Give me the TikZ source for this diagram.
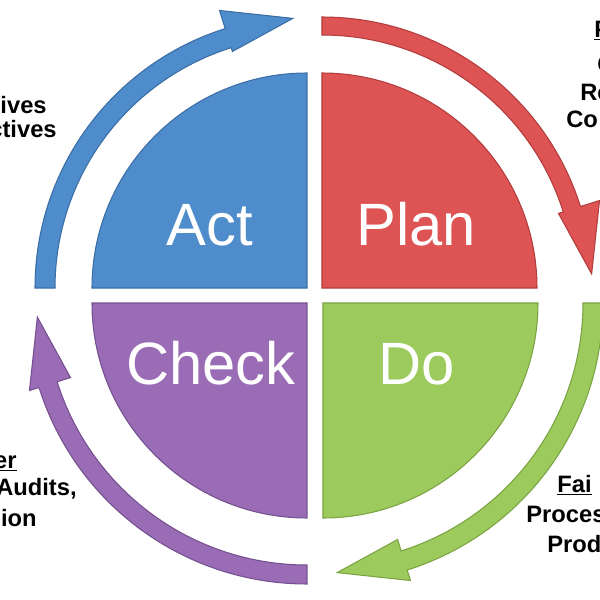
\documentclass[tikz,border=0pt]{standalone}
\usepackage{fontspec}
\setmainfont{Liberation Sans}

\definecolor{actblue}{HTML}{4E8CCB}
\definecolor{actline}{HTML}{3B6EA5}
\definecolor{planred}{HTML}{DE5454}
\definecolor{planline}{HTML}{B03C3C}
\definecolor{dogreen}{HTML}{9DCA5C}
\definecolor{doline}{HTML}{7BA344}
\definecolor{checkpurple}{HTML}{9B6CB6}
\definecolor{checkline}{HTML}{74508F}

\tikzset{
  quad/.style={line width=0.6pt},
  quadlabel/.style={text=white,font=\fontsize{34}{34}\selectfont,inner sep=0pt},
  sidetext/.style={font=\bfseries\fontsize{13.5}{16}\selectfont,inner sep=0pt},
}

% curved arrow round one quarter: center, start angle, inner r, outer r, colours
\newcommand{\cycarrow}[5]{%
  \filldraw[quad,#5,shift={(#1)}] ({#2}:#4) arc[start angle=#2,end angle=#2-72.5,radius=#4]
    -- ({#2-72.5}:291) -- ({#2-87}:270) -- ({#2-72.5}:248)
    -- ({#2-72.5}:#3) arc[start angle=#2-72.5,end angle=#2,radius=#3] -- cycle;}

\begin{document}
\begin{tikzpicture}[x=0.02cm,y=0.02cm]
    \useasboundingbox (0,0) rectangle (600,600);
    \clip (0,0) rectangle (600,600);

    \coordinate (cAct) at (307,312);   %Act
    \coordinate (cPlan) at (322,312);  %Plan
    \coordinate (cCheck) at (307,297); %Check
    \coordinate (cDo) at (323,297);    %Do

    % quarters
    \filldraw[quad,fill=actblue,draw=actline] (cAct) -- ++(-215,0) arc[start angle=180,end angle=90,radius=215] -- cycle;
    \filldraw[quad,fill=planred,draw=planline] (cPlan) -- ++(0,215) arc[start angle=90,end angle=0,radius=215] -- cycle;
    \filldraw[quad,fill=dogreen,draw=doline] (cDo) -- ++(215,0) arc[start angle=0,end angle=-90,radius=215] -- cycle;
    \filldraw[quad,fill=checkpurple,draw=checkline] (cCheck) -- ++(0,-215) arc[start angle=270,end angle=180,radius=215] -- cycle;

    \node[quadlabel,anchor=base] (act) at (210,355) {Act};
    \node[quadlabel,anchor=base] (plan) at (416,355) {Plan};
    \node[quadlabel,anchor=base] (check) at (211,215) {Check};
    \node[quadlabel,anchor=base] (do) at (417,215) {Do};

    % arrows round the ring
    \cycarrow{cAct}{180}{252}{272}{fill=actblue,draw=actline}
    \cycarrow{cPlan}{90}{253}{271}{fill=planred,draw=planline}
    \cycarrow{cDo}{0}{260}{280}{fill=dogreen,draw=doline}
    \cycarrow{cCheck}{270}{262}{281}{fill=checkpurple,draw=checkline}

    % side texts (cut by the frame)
    \node[sidetext,anchor=base east] (tl1) at (47,487) {ives};
    \node[sidetext,anchor=base east] (tl2) at (57,463) {ctives};

    \node[sidetext,anchor=base west] (tr1) at (594,563) {\underline{P}};
    \node[sidetext,anchor=base west] (tr2) at (597,528) {C};
    \node[sidetext,anchor=base west] (tr3) at (580,500) {Re};
    \node[sidetext,anchor=base west] (tr4) at (566,473) {Co};

    \node[sidetext,anchor=base east] (bl1) at (17,132) {\underline{er}};
    \node[sidetext,anchor=base east] (bl2) at (77,105) {Audits,};
    \node[sidetext,anchor=base east] (bl3) at (37,73) {ion};

    \node[sidetext,anchor=base west] (br1) at (557,108) {\underline{Fai}};
    \node[sidetext,anchor=base west] (br2) at (526,77) {Proces};
    \node[sidetext,anchor=base west] (br3) at (547,48) {Prod};
\end{tikzpicture}
\end{document}
